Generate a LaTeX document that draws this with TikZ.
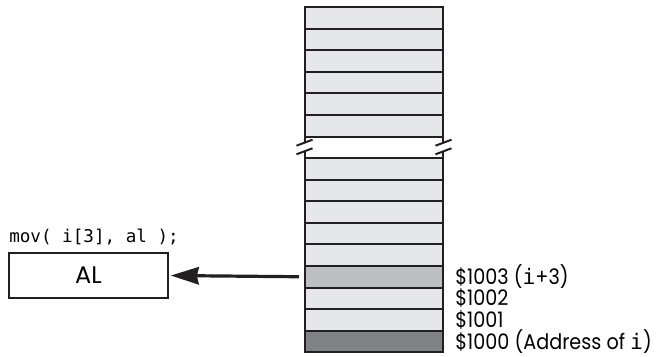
\documentclass[tikz,border=0pt]{standalone}
\usepackage{fontspec}
\setmainfont{Poppins}
\setmonofont{DejaVu Sans Mono}
\newfontfamily\addrfont[FakeStretch=0.9]{Poppins}
\usetikzlibrary{positioning,arrows.meta}

\definecolor{cellgray}{HTML}{E6E7E8}
\definecolor{hitgray}{HTML}{BCBEC0}
\definecolor{basegray}{HTML}{808285}
\definecolor{inkline}{HTML}{231F20}

\tikzset{
  cell/.style={draw=inkline, line width=1.5pt, minimum width=103.5pt, minimum height=16.2pt, inner sep=0pt, outer sep=0pt},
  wall/.style={inkline, line width=1.5pt},
  addr/.style={anchor=west, inner sep=0pt, font=\addrfont\fontsize{16}{16}\selectfont},
  regbox/.style={draw=inkline, line width=1.2pt, minimum width=119.25pt, minimum height=33.75pt, inner sep=0pt, font=\fontsize{18}{18}\selectfont},
}

\begin{document}
\begin{tikzpicture}[x=0.75pt, y=-0.75pt]
	\useasboundingbox (0,0) rectangle (657,357);

	% upper part of memory: six cells
	\foreach \i in {1,...,6} {
		\node[cell, fill=cellgray] (u\i) at (374, 7+21.6*\i-10.8) {};
	}
	% lower part of memory, top to bottom; l6 is i+3, l9 is i
	\foreach \i/\shade in {1/cellgray, 2/cellgray, 3/cellgray, 4/cellgray, 5/cellgray, 6/hitgray, 7/cellgray, 8/cellgray, 9/basegray} {
		\node[cell, fill=\shade] (l\i) at (374, 158+21.6*\i-10.8) {};
	}

	% side walls through the gap
	\draw[wall] (u6.south west) -- (l1.north west);
	\draw[wall] (u6.south east) -- (l1.north east);

	% break marks on both walls
	\coordinate (cutw) at (304.5,147);
	\coordinate (cute) at (443.5,147);
	\foreach \c in {cutw, cute} {
		\fill[white] ([shift={(-8,-1.3)}]\c) -- ([shift={(8,-7.3)}]\c) -- ([shift={(8,1.3)}]\c) -- ([shift={(-8,7.3)}]\c) -- cycle;
		\draw[wall] ([shift={(-8,-1.3)}]\c) -- ([shift={(8,-7.3)}]\c);
		\draw[wall] ([shift={(-8,7.3)}]\c) -- ([shift={(8,1.3)}]\c);
	}

	% register and instruction
	\node[regbox] (al) at (88.5,275.5) {AL};
	\node[anchor=base west, inner sep=0pt, font=\ttfamily\fontsize{13.2}{13.2}\selectfont] (instr) at (9,242) {mov( i[3], al );};

	% load arrow from i+3 into AL
	\draw[inkline, line width=2.4pt, -{Stealth[length=21pt, width=13pt, inset=1.5pt]}, shorten <=4.5pt, shorten >=1.5pt] (l6.west) -- (al.east);

	% addresses
	\node[addr, right=9pt of l6.east] (a3) {\$1003 (\texttt{i}+3)};
	\node[addr, right=9pt of l7.east] (a2) {\$1002};
	\node[addr, right=9pt of l8.east] (a1) {\$1001};
	\node[addr, right=9pt of l9.east] (a0) {\$1000 (Address of \texttt{i})};
\end{tikzpicture}
\end{document}
